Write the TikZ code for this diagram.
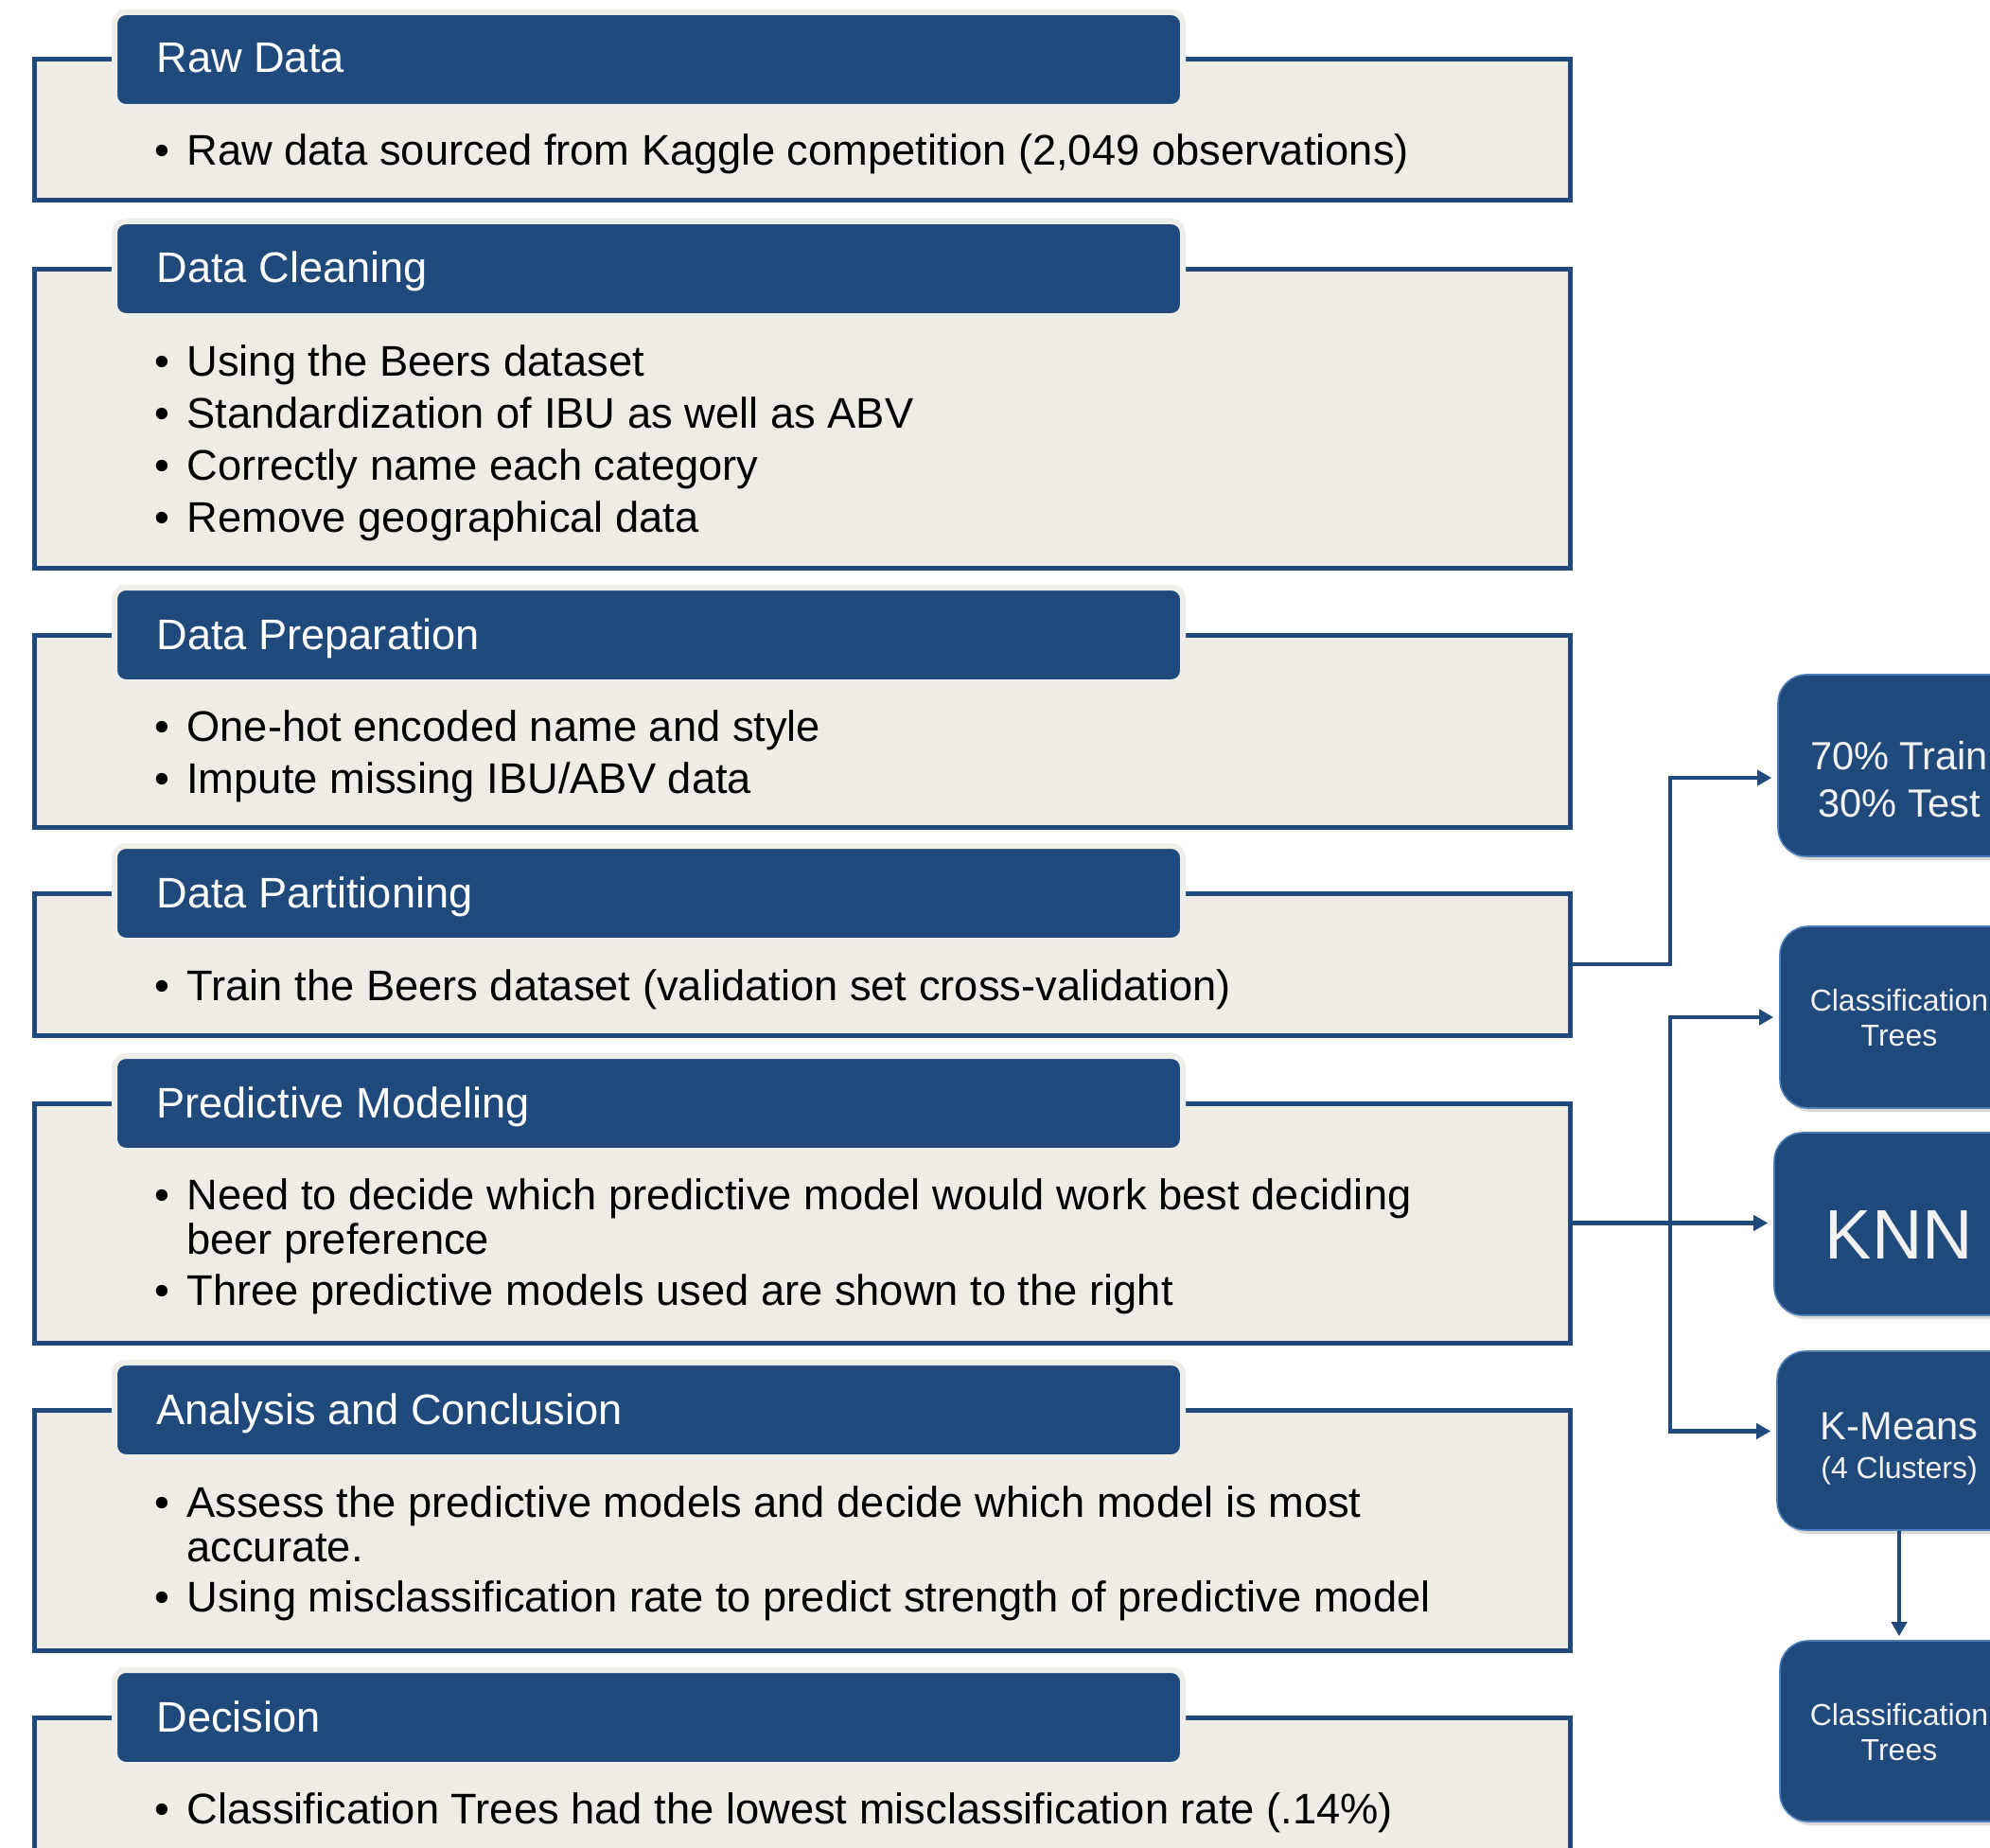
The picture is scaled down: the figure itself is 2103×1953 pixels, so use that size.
\documentclass[tikz,border=0pt]{standalone}
\usepackage{fontspec}
\setmainfont{Liberation Sans}
\usetikzlibrary{arrows.meta,fit,shadows}
\definecolor{navy}{HTML}{214A7C}
\definecolor{bodyfill}{HTML}{EEECE5}
\definecolor{hdredge}{HTML}{EFEDE7}
\definecolor{modeledge}{HTML}{4D7DB8}
\definecolor{modeltext}{HTML}{F2F2F2}
\begin{document}
\begin{tikzpicture}[x=0.5pt,y=-0.5pt,
  panel/.style={draw=navy, fill=bodyfill, line width=2.5pt, inner sep=0pt, rectangle},
  hdr/.style={draw=hdredge, fill=navy, line width=3pt, rounded corners=6pt, inner sep=0pt},
  ttl/.style={anchor=base west, inner sep=0pt, text=white, font=\fontsize{22.6}{27}\selectfont},
  txt/.style={anchor=base west, inner sep=0pt, text=black, font=\fontsize{22.65}{27}\selectfont},
  bul/.style={anchor=base, inner sep=0pt, text=black, font=\fontsize{22.65}{27}\selectfont},
  model/.style={draw=modeledge, fill=navy, line width=0.8pt, rounded corners=15pt, inner sep=0pt,
    drop shadow={shadow xshift=1.5pt, shadow yshift=-2pt, opacity=0.3}},
  mbig/.style={anchor=base, inner sep=0pt, text=modeltext, font=\fontsize{20.8}{24}\selectfont},
  msmall/.style={anchor=base, inner sep=0pt, text=modeltext, font=\fontsize{16}{19}\selectfont},
  mhuge/.style={anchor=base, inner sep=0pt, text=modeltext, font=\fontsize{37}{42}\selectfont},
  conn/.style={draw=navy, line width=2.4pt, -{Triangle[length=7.5pt,width=8pt]}, shorten >=3pt},
]
\useasboundingbox (0,0) rectangle (2103,1953);
\clip (0,0) rectangle (2103,1953);
\fill[white] (0,0) rectangle (2103,1953);

% ---------- panels ----------
\node[panel, fit={(36,63) (1659,212)}] (b1) {};
\node[hdr, fit={(121,13) (1250,113)}] (h1) {};
\node[ttl] (t1) at (165,77) {Raw Data};
\node[bul] (d11) at (171,175) {•};
\node[txt] (x11) at (197,175) {Raw data sourced from Kaggle competition (2,049 observations)};

\node[panel, fit={(36,284) (1659,600)}] (b2) {};
\node[hdr, fit={(121,234) (1250,334)}] (h2) {};
\node[ttl] (t2) at (165,299) {Data Cleaning};
\node[bul] (d21) at (171,397) {•};
\node[txt] (x21) at (197,397) {Using the Beers dataset};
\node[bul] (d22) at (171,452) {•};
\node[txt] (x22) at (197,452) {Standardization of IBU as well as ABV};
\node[bul] (d23) at (171,507) {•};
\node[txt] (x23) at (197,507) {Correctly name each category};
\node[bul] (d24) at (171,562) {•};
\node[txt] (x24) at (197,562) {Remove geographical data};

\node[panel, fit={(36,671) (1659,874)}] (b3) {};
\node[hdr, fit={(121,621) (1250,721)}] (h3) {};
\node[ttl] (t3) at (165,686) {Data Preparation};
\node[bul] (d31) at (171,783) {•};
\node[txt] (x31) at (197,783) {One-hot encoded name and style};
\node[bul] (d32) at (171,838) {•};
\node[txt] (x32) at (197,838) {Impute missing IBU/ABV data};

\node[panel, fit={(36,944) (1659,1094)}] (b4) {};
\node[hdr, fit={(121,894) (1250,994)}] (h4) {};
\node[ttl] (t4) at (165,959) {Data Partitioning};
\node[bul] (d41) at (171,1057) {•};
\node[txt] (x41) at (197,1057) {Train the Beers dataset (validation set cross-validation)};

\node[panel, fit={(36,1166) (1659,1419)}] (b5) {};
\node[hdr, fit={(121,1116) (1250,1216)}] (h5) {};
\node[ttl] (t5) at (165,1181) {Predictive Modeling};
\node[bul] (d51) at (171,1278) {•};
\node[txt] (x51) at (197,1278) {Need to decide which predictive model would work best deciding};
\node[txt] (x52) at (197,1325) {beer preference};
\node[bul] (d53) at (171,1379) {•};
\node[txt] (x53) at (197,1379) {Three predictive models used are shown to the right};

\node[panel, fit={(36,1490) (1659,1744)}] (b6) {};
\node[hdr, fit={(121,1440) (1250,1540)}] (h6) {};
\node[ttl] (t6) at (165,1505) {Analysis and Conclusion};
\node[bul] (d61) at (171,1603) {•};
\node[txt] (x61) at (197,1603) {Assess the predictive models and decide which model is most};
\node[txt] (x62) at (197,1650) {accurate.};
\node[bul] (d63) at (171,1703) {•};
\node[txt] (x63) at (197,1703) {Using misclassification rate to predict strength of predictive model};

\node[panel, fit={(36,1815) (1659,2010)}] (b7) {};
\node[hdr, fit={(121,1765) (1250,1865)}] (h7) {};
\node[ttl] (t7) at (165,1830) {Decision};
\node[bul] (d71) at (171,1927) {•};
\node[txt] (x71) at (197,1927) {Classification Trees had the lowest misclassification rate (.14\%)};

% ---------- model boxes ----------
\node[model, fit={(1879,713) (2140,905)}] (m1) {};
\node[mbig] (m1a) at (2007,813) {70\% Train};
\node[mbig] (m1b) at (2007,863) {30\% Test};

\node[model, fit={(1881,979) (2140,1171)}] (m2) {};
\node[msmall] (m2a) at (2007,1068) {Classification};
\node[msmall] (m2b) at (2007,1105) {Trees};

\node[model, fit={(1875,1197) (2140,1390)}] (m3) {};
\node[mhuge] (m3a) at (2007,1330) {KNN};

\node[model, fit={(1878,1428) (2140,1617)}] (m4) {};
\node[mbig] (m4a) at (2007,1521) {K-Means};
\node[msmall] (m4b) at (2007,1562) {(4 Clusters)};

\node[model, fit={(1881,1734) (2140,1925)}] (m5) {};
\node[msmall] (m5a) at (2007,1823) {Classification};
\node[msmall] (m5b) at (2007,1860) {Trees};

% ---------- connectors ----------
\coordinate (sx) at (1765,0);
\coordinate (m1in) at ([yshift=-6.5pt]m1.west);
\coordinate (m4in) at ([yshift=5pt]m4.west);
\draw[conn] (b4.east) -- (b4.east -| sx) |- (m1in);
\coordinate (split) at (sx |- b5.east);
\draw[conn] (b5.east) -- (b5.east -| m3.west);
\draw[conn] (split) |- (m2.west);
\draw[conn] (split) |- (m4in);
\draw[conn, shorten >=2pt] (m4.south -| m4a.south) -- (m5.north -| m4a.south);
\end{tikzpicture}
\end{document}
